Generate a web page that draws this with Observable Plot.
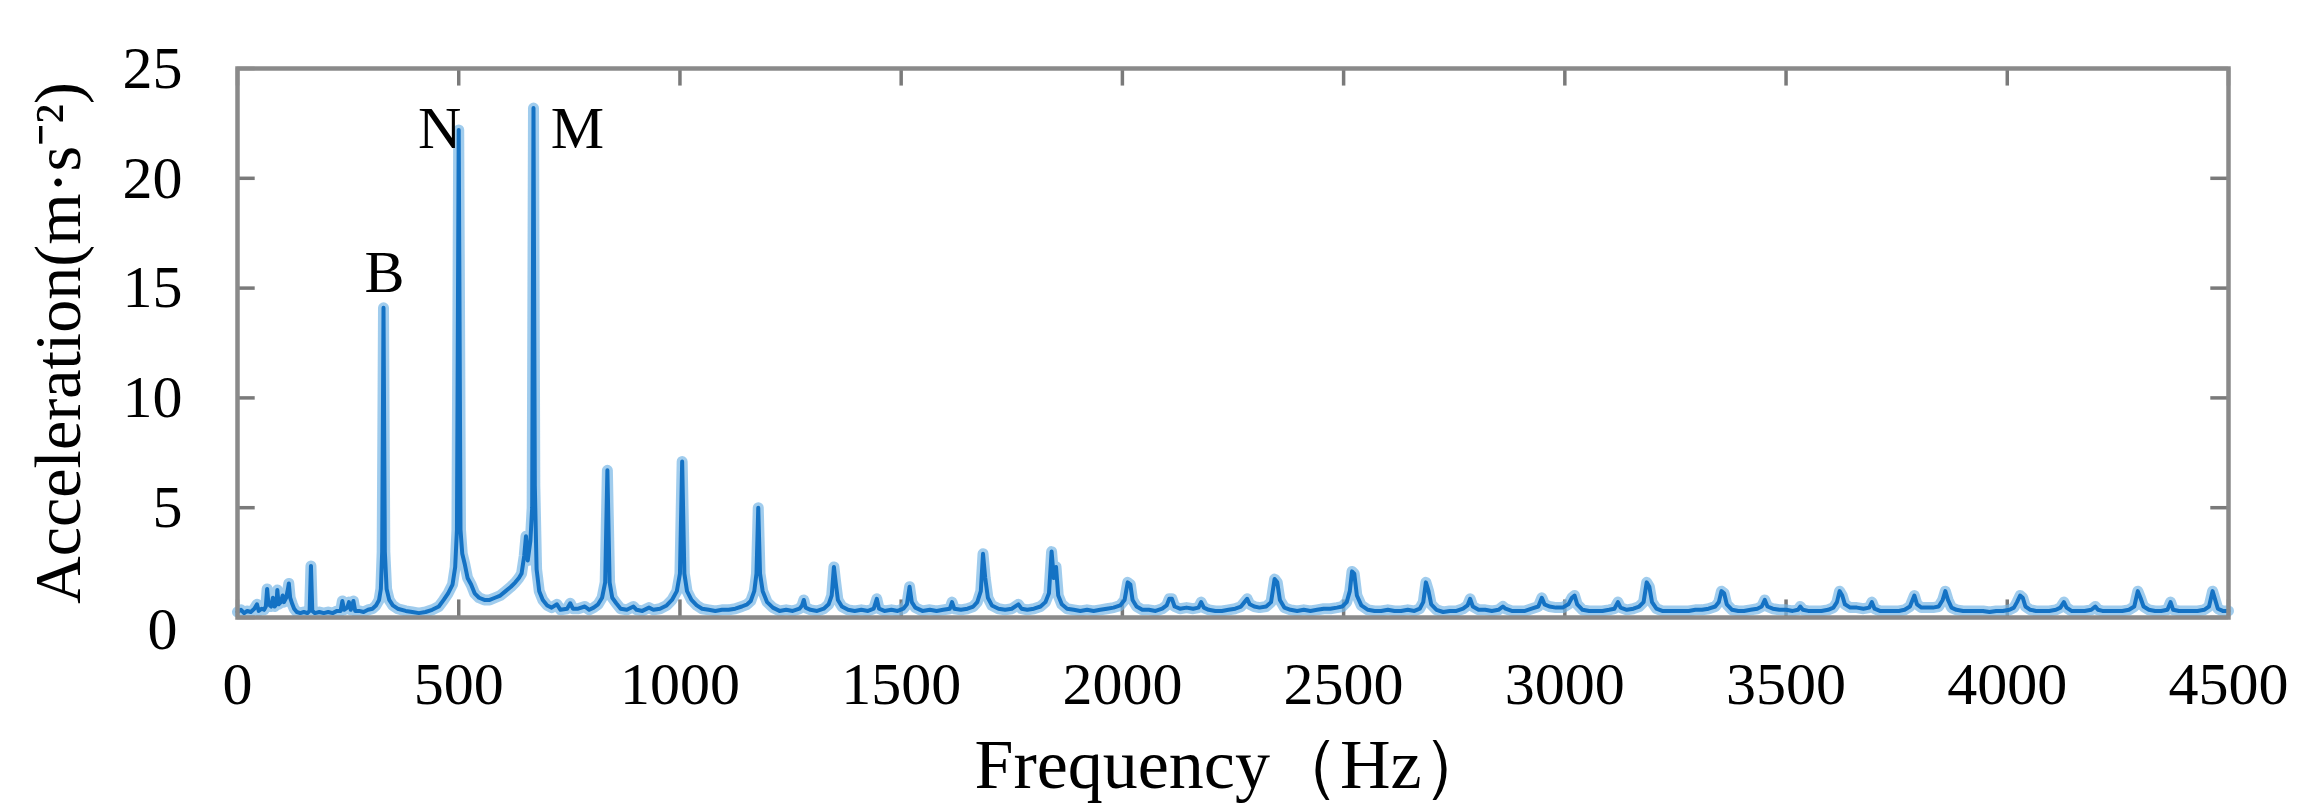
<!DOCTYPE html>
<html>
<head>
<meta charset="utf-8">
<script src="https://cdn.jsdelivr.net/npm/d3@7"></script>
<script src="https://cdn.jsdelivr.net/npm/@observablehq/plot@0.6"></script>
<style>
  html, body { margin: 0; padding: 0; background: #fff; }
  #chart svg { display: block; }
</style>
</head>
<body>
<div id="chart"></div>
<script>
// ---- Data ----
const xTicks = [0, 500, 1000, 1500, 2000, 2500, 3000, 3500, 4000, 4500];
const yTicks = [0, 5, 10, 15, 20, 25];
const xLabel = "Frequency（Hz）";
const yLabel = "Acceleration(m·s⁻²)";

const peakNames = ["B", "N", "M"];
const peakLabelHz = [332, 506, 708];
const peakLabelAcc = [14.8, 21.4, 21.4];
const peakLabelAnchor = ["middle", "end", "start"];

// [frequency Hz, acceleration m/s^2]
const spectrumLow = [
  [0,0.25],[8,0.35],[15,0.2],[22,0.3],[30,0.25],[38,0.4],[44,0.6],[48,0.3],[55,0.4],[60,0.35],
  [64,0.5],[67,1.3],[70,0.6],[76,0.5],[80,0.9],[84,0.5],[88,0.6],[90,1.25],[93,0.6],[98,0.7],
  [102,1.0],[105,0.7],[110,0.9],[114,1.3],[116,1.55],[119,0.9],[124,0.6],[128,0.4],[134,0.25],
  [142,0.2],[150,0.25],[158,0.2],[163,0.3],[166,2.35],[169,0.3],[175,0.2],[185,0.25],[195,0.2],
  [205,0.25],[215,0.2],[225,0.3],[233,0.3],[237,0.75],[241,0.35],[248,0.45],[252,0.7],[256,0.35],
  [262,0.75],[266,0.3],[275,0.3],[285,0.25],[295,0.35]
];
const spectrumMain = [
  [305,0.4],[313,0.55],[320,0.8],[324,1.3],[327,3.0],[330,14.1],[333,3.0],[337,1.3],[343,0.8],
  [351,0.55],[362,0.4],[380,0.3],[395,0.25],[410,0.2],[425,0.25],[440,0.35],[455,0.5],[466,0.8],
  [476,1.1],[486,1.5],[492,2.3],[496,4.0],[500,22.2],[504,4.0],[508,2.9],[514,2.4],[520,1.8],
  [528,1.5],[536,1.1],[546,0.9],[558,0.8],[570,0.8],[582,0.9],[594,1.0],[606,1.2],[618,1.4],
  [628,1.6],[636,1.8],[642,2.0],[648,2.8],[652,3.7],[656,2.6],[662,3.5],[666,5.0],[669,23.2],
  [672,6.0],[676,2.2],[682,1.2],[690,0.8],[700,0.55],[710,0.45],[722,0.6],[730,0.35],[745,0.4],
  [752,0.65],[758,0.4],[770,0.4],[785,0.5],[795,0.35],[805,0.45],[815,0.6],[824,0.9],[831,1.6],
  [836,6.7],[841,1.6],[847,0.9],[856,0.65],[866,0.4],[880,0.35],[895,0.5],[902,0.35],[915,0.3],
  [930,0.45],[940,0.35],[955,0.4],[970,0.55],[982,0.8],[993,1.2],[1000,2.0],[1005,7.1],
  [1010,2.0],[1016,1.2],[1026,0.8],[1038,0.55],[1050,0.4],[1065,0.35],[1080,0.3],[1095,0.35],
  [1110,0.35],[1125,0.4],[1140,0.5],[1152,0.6],[1160,0.75],[1168,1.2],[1173,2.0],[1177,5.0],
  [1181,2.0],[1187,1.2],[1197,0.7],[1210,0.45],[1225,0.3]
];
const spectrumMid = [
  [1240,0.35],[1255,0.3],[1270,0.4],[1276,0.55],[1280,0.8],[1284,0.45],[1295,0.35],[1310,0.3],
  [1325,0.4],[1336,0.6],[1343,1.0],[1348,2.3],[1352,1.6],[1357,0.8],[1366,0.5],[1380,0.35],
  [1395,0.3],[1410,0.35],[1425,0.3],[1438,0.4],[1445,0.85],[1450,0.4],[1462,0.3],[1478,0.35],
  [1492,0.3],[1505,0.4],[1513,0.6],[1519,1.4],[1524,0.7],[1532,0.45],[1548,0.3],[1565,0.35],
  [1580,0.3],[1595,0.35],[1610,0.4],[1615,0.7],[1620,0.4],[1635,0.35],[1650,0.4],[1663,0.5],
  [1672,0.7],[1680,1.2],[1685,2.9],[1690,1.8],[1696,0.9],[1705,0.55],[1720,0.4],[1735,0.35],
  [1750,0.4],[1765,0.6],[1772,0.4],[1785,0.35],[1800,0.4],[1815,0.5],[1826,0.7],[1834,1.1],
  [1840,3.0],[1845,1.8],[1850,2.3],[1855,1.0],[1863,0.6],[1875,0.4],[1890,0.35],[1905,0.3],
  [1920,0.35],[1935,0.3],[1950,0.35],[1965,0.4],[1980,0.45],[1995,0.55],[2005,0.8],[2012,1.6],
  [2018,1.5],[2023,0.8],[2032,0.5],[2045,0.35],[2060,0.35],[2075,0.3],[2090,0.4],[2100,0.55],
  [2106,0.85],[2112,0.85],[2118,0.5],[2130,0.4],[2145,0.45],[2160,0.4],[2172,0.45],[2178,0.7],
  [2184,0.45],[2195,0.35],[2210,0.3],[2225,0.3],[2240,0.35],[2255,0.4],[2268,0.5],[2276,0.7],
  [2282,0.85],[2288,0.6],[2298,0.5],[2310,0.45],[2325,0.5],[2336,0.7],[2344,1.75],[2350,1.6],
  [2356,0.8],[2366,0.45],[2380,0.35],[2395,0.3],[2410,0.35],[2425,0.3],[2440,0.35],[2455,0.4],
  [2470,0.4],[2485,0.45],[2497,0.5],[2507,0.7],[2514,1.2],[2519,2.1],[2524,2.0],[2530,1.0],
  [2540,0.55],[2555,0.35],[2570,0.3],[2585,0.3],[2600,0.35],[2615,0.3],[2630,0.3],[2645,0.35],
  [2660,0.3],[2672,0.4],[2680,0.7],[2686,1.6],[2692,1.2],[2698,0.6],[2710,0.35],[2725,0.25],
  [2740,0.3],[2755,0.3],[2770,0.4],[2780,0.55],[2786,0.85],[2792,0.5],[2805,0.35],[2820,0.35],
  [2835,0.3],[2850,0.35],[2860,0.5],[2866,0.4],[2880,0.3],[2895,0.3],[2910,0.3],[2925,0.4],
  [2940,0.5],[2948,0.9],[2954,0.6],[2965,0.5],[2980,0.45],[2995,0.45]
];
const spectrumHigh = [
  [3008,0.6],[3016,0.9],[3022,1.0],[3028,0.6],[3040,0.35],[3055,0.3],[3070,0.3],[3085,0.3],
  [3100,0.35],[3112,0.4],[3120,0.7],[3126,0.45],[3140,0.35],[3155,0.4],[3168,0.5],[3178,0.7],
  [3185,1.6],[3191,1.4],[3197,0.7],[3207,0.4],[3220,0.3],[3235,0.3],[3250,0.3],[3265,0.3],
  [3280,0.3],[3295,0.35],[3310,0.35],[3325,0.4],[3340,0.5],[3348,0.7],[3354,1.2],[3360,1.1],
  [3366,0.6],[3378,0.35],[3392,0.3],[3405,0.3],[3420,0.35],[3435,0.4],[3445,0.5],[3452,0.8],
  [3458,0.5],[3470,0.4],[3485,0.35],[3500,0.35],[3515,0.3],[3527,0.35],[3532,0.5],[3538,0.35],
  [3550,0.3],[3565,0.3],[3580,0.3],[3595,0.35],[3607,0.45],[3615,0.7],[3621,1.2],[3627,1.0],
  [3633,0.6],[3645,0.45],[3660,0.45],[3675,0.4],[3688,0.45],[3694,0.7],[3700,0.4],[3712,0.3],
  [3725,0.3],[3740,0.3],[3755,0.3],[3768,0.35],[3780,0.5],[3790,1.0],[3796,0.6],[3806,0.45],
  [3818,0.45],[3832,0.45],[3845,0.5],[3854,0.8],[3860,1.2],[3866,0.8],[3874,0.45],[3885,0.35],
  [3900,0.3],[3915,0.3],[3930,0.3],[3945,0.3],[3960,0.25],[3975,0.3],[3990,0.3],[4005,0.35],
  [4015,0.45],[4022,0.7],[4029,1.0],[4035,0.9],[4041,0.5],[4052,0.35],[4065,0.3],[4080,0.3],
  [4095,0.3],[4110,0.35],[4120,0.45],[4128,0.7],[4134,0.45],[4145,0.3],[4160,0.3],[4175,0.3],
  [4190,0.35],[4199,0.5],[4205,0.35],[4215,0.3],[4230,0.3],[4245,0.3],[4260,0.3],[4275,0.35],
  [4287,0.5],[4295,1.2],[4301,0.9],[4308,0.5],[4320,0.35],[4334,0.3],[4348,0.3],[4362,0.35],
  [4369,0.7],[4375,0.35],[4388,0.3],[4402,0.3],[4416,0.3],[4430,0.3],[4445,0.35],[4456,0.5],
  [4464,1.2],[4470,0.8],[4476,0.4],[4487,0.3],[4500,0.3]
];

// ---- Build table for the library ----
const spectrum = [...spectrumLow, ...spectrumMain, ...spectrumMid, ...spectrumHigh]
  .map(([f, a]) => ({f, a}));
const peakLabels = peakNames.map((name, i) => ({
  name, f: peakLabelHz[i], a: peakLabelAcc[i], anchor: peakLabelAnchor[i]
}));

const serif = "'Liberation Serif', 'Times New Roman', Times, serif";
const tickColor = "#7a7a7a";
const peakText = (anchor) => Plot.text(peakLabels.filter(d => d.anchor === anchor), {
  x: "f", y: "a", text: "name", textAnchor: anchor, lineAnchor: "bottom", fontSize: 60, fill: "#000"
});

const chart = Plot.plot({
  width: 2316,
  height: 806,
  marginLeft: 237,
  marginRight: 88,
  marginTop: 68,
  marginBottom: 189,
  style: {fontFamily: serif, fontSize: "60px", color: "#000", background: "#fff"},
  x: {domain: [0, 4500], ticks: xTicks, label: null},
  y: {domain: [0, 25], ticks: yTicks, label: null},
  marks: [
    // inward ticks (bottom/top, left/right)
    Plot.ruleX(xTicks, {x: d => d, y1: 0, y2: 0.8, stroke: tickColor, strokeWidth: 3.5}),
    Plot.ruleX(xTicks, {x: d => d, y1: 25, y2: 24.2, stroke: tickColor, strokeWidth: 3.5}),
    Plot.ruleY(yTicks, {y: d => d, x1: 0, x2: 40, stroke: tickColor, strokeWidth: 3.5}),
    Plot.ruleY(yTicks, {y: d => d, x1: 4500, x2: 4460, stroke: tickColor, strokeWidth: 3.5}),
    // spectrum (soft halo + core)
    Plot.line(spectrum, {x: "f", y: "a", stroke: "#78b6e6", strokeWidth: 11, strokeOpacity: 0.7, curve: "linear"}),
    Plot.line(spectrum, {x: "f", y: "a", stroke: "#1472c4", strokeWidth: 4, curve: "linear"}),
    Plot.frame({stroke: "#8a8a8a", strokeWidth: 4.5}),
    // axes
    Plot.axisX(xTicks, {tickSize: 0, tickPadding: 44, fontSize: 60, tickFormat: d => String(d), label: null}),
    Plot.axisY(yTicks.filter(d => d > 0), {tickSize: 0, tickPadding: 55, fontSize: 60, tickFormat: d => String(d), label: null}),
    Plot.text(yTicks.filter(d => d === 0), {x: 0, y: d => d, text: d => String(d), textAnchor: "end", dx: -60, dy: 12, fontSize: 60, fill: "#000"}),
    // axis titles
    Plot.text([xLabel], {text: d => d, frameAnchor: "bottom", dy: 170, textAnchor: "middle", lineAnchor: "bottom", fontSize: 70, fill: "#000"}),
    Plot.text([yLabel], {text: d => d, frameAnchor: "left", rotate: -90, dx: -158, dy: 0, textAnchor: "middle", lineAnchor: "bottom", fontSize: 66, fill: "#000"}),
    // peak labels
    peakText("middle"),
    peakText("end"),
    peakText("start")
  ]
});
document.getElementById("chart").appendChild(chart);
</script>
</body>
</html>
